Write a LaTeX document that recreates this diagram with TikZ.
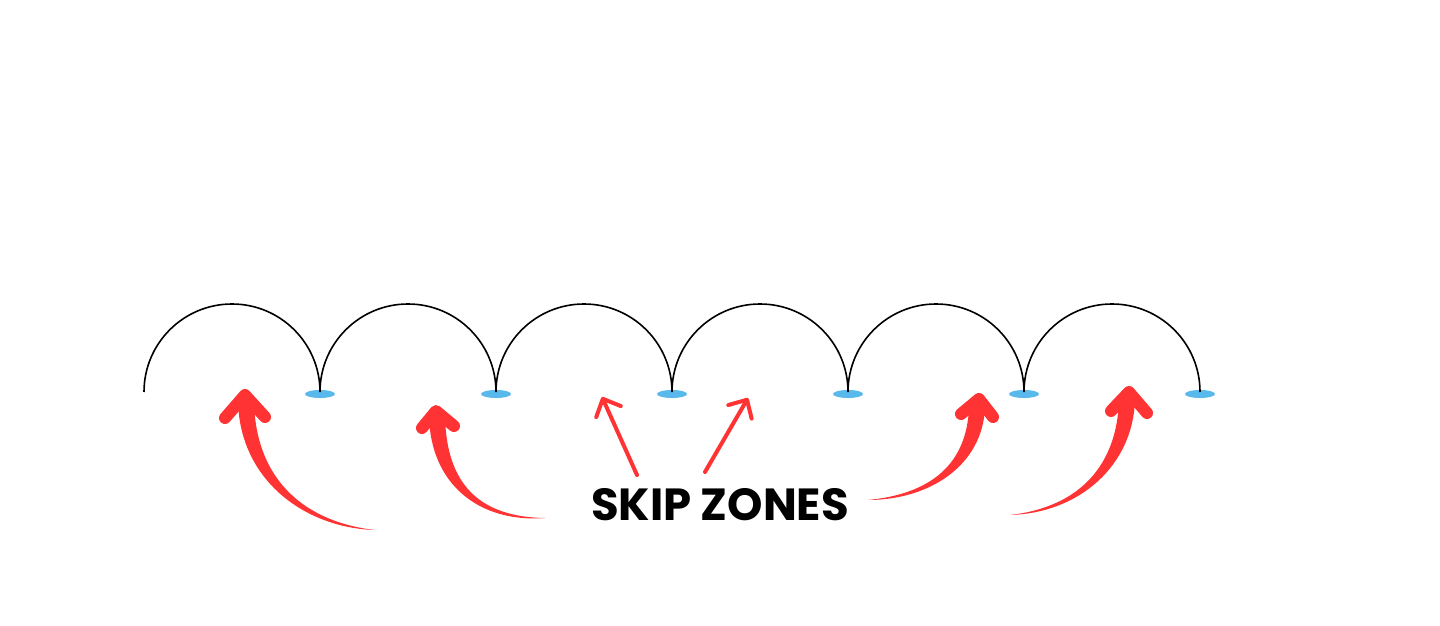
\documentclass[tikz,border=0pt]{standalone}
\usepackage{fontspec}
\setmainfont{Poppins}
\usetikzlibrary{arrows.meta,calc,shapes.geometric}
\definecolor{skipred}{RGB}{255,51,51}
\definecolor{puddle}{RGB}{88,186,236}
\tikzset{
	hop/.style={color=black, line width=1.6pt},
	splash/.style={ellipse,fill=puddle,inner sep=0,minimum width=30pt,minimum height=8pt},
	swoop/.style={fill=skipred},
	swoophead/.style={draw=skipred,line width=12pt,line cap=round,line join=round},
	pointer/.style={->,>={Straight Barb[length=14pt,width=27pt,round]},draw=skipred,line width=4pt,line cap=round},
	zonelabel/.style={font=\fontsize{45}{45}\selectfont\bfseries, text centered}
}
% tapered body: tail, control 1, control 2, head end, tail offset
\newcommand{\swoopbody}[5]{%
	\fill[swoop] (#1) .. controls ($(#2)+(0,#5)$) and ($(#3)+(-8,0)$) .. ($(#4)+(-8,0)$)
	-- ($(#4)+(8,0)$) .. controls ($(#3)+(8,0)$) and ($(#2)-(0,#5)$) .. (#1) -- cycle;}

\begin{document}
\begin{tikzpicture}[x=1pt,y=1pt]
\useasboundingbox (0,0) rectangle (1440,625);

    % puddles where the stone lands
    \coordinate (s0) at (144,233);
    \foreach \i in {1,...,6}
        \node[splash] (s\i) at (144+176*\i,231) {};

    % hops
    \draw[hop] (s0) arc[start angle=180,end angle=0,radius=88];
    \foreach \i in {1,...,5}
        \draw[hop] ($(s\i.center)+(0,2)$) arc[start angle=180,end angle=0,radius=88];

    \node[zonelabel] (zones) at (720,120) {SKIP ZONES};

    % thin pointers
    \coordinate (p1) at (637,150);
    \coordinate (q1) at (602,228);
    \coordinate (p2) at (705,153);
    \coordinate (q2) at (748,227);
    \draw[pointer] (p1) -- (q1);
    \draw[pointer] (p2) -- (q2);

    % big swoops
    \coordinate (t1) at (375,95);
    \coordinate (h1) at (246,225);
    \swoopbody{t1}{305,100}{247,145}{h1}{-3}
    \draw[swoophead] (225,207) -- (245,230) -- (265,208);

    \coordinate (t2) at (545,107);
    \coordinate (h2) at (437,210);
    \swoopbody{t2}{480,105}{438,140}{h2}{-3}
    \draw[swoophead] (422,197) -- (436,214) -- (454,199);

    \coordinate (t3) at (868,125);
    \coordinate (h3) at (977,218);
    \swoopbody{t3}{930,128}{975,160}{h3}{3}
    \draw[swoophead] (961,211) -- (979,226) -- (993,208);

    \coordinate (t4) at (1010,110);
    \coordinate (h4) at (1127,225);
    \swoopbody{t4}{1080,115}{1125,160}{h4}{3}
    \draw[swoophead] (1111,214) -- (1129,233) -- (1147,212);
\end{tikzpicture}
\end{document}
